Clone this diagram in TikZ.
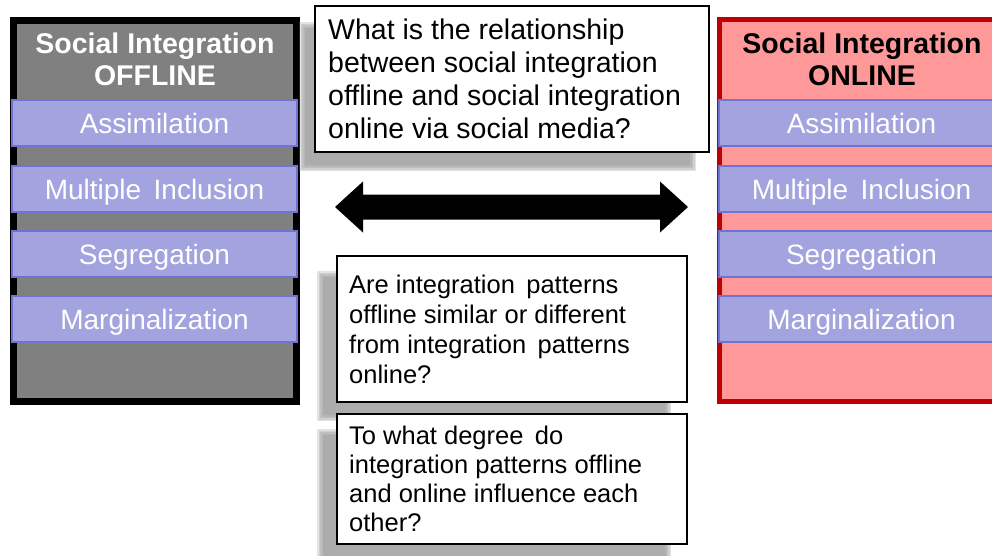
\documentclass[tikz,border=0pt]{standalone}
\usepackage{fontspec}
\setmainfont{Liberation Sans}
\usetikzlibrary{calc}
\begin{document}
\begin{tikzpicture}[x=1pt,y=-1pt,
  band/.style={draw=bandline,fill=bandfill,line width=1.4pt,minimum width=285pt,minimum height=46pt,
    inner sep=0pt,text=white,font=\fontsize{28}{31}\selectfont,text height=20pt,text depth=0pt},
  qbox/.style={draw=black,fill=white,line width=2.2pt},
  qtext/.style={anchor=north west,inner sep=0pt,align=left},
  ttl/.style={anchor=north,inner sep=0pt,align=center,font=\fontsize{28.5}{32}\selectfont\bfseries}]
\definecolor{greyfill}{HTML}{808080}
\definecolor{bandfill}{HTML}{A3A3DF}
\definecolor{bandline}{HTML}{7272D2}
\definecolor{pinkfill}{HTML}{FF9999}
\definecolor{redline}{HTML}{C00000}
\definecolor{shadowc}{HTML}{969696}
\useasboundingbox (0,0) rectangle (992,555);
\clip (0,0) rectangle (992,555);
\fill[white] (0,0) rectangle (992,555);
% left box
\draw[line width=7pt,fill=greyfill] (13.5,20.5) rectangle (296.5,401.5);
\node[ttl,text=white] (tl) at (155,32.5) {Social Integration\\OFFLINE};
\node[band] (l1) at (154.5,123) {Assimilation};
\node[band] (l2) at (154.5,189) {Multiple\, Inclusion};
\node[band] (l3) at (154.5,254) {Segregation};
\node[band] (l4) at (154.5,319) {Marginalization};
% right box
\draw[line width=5pt,draw=redline,fill=pinkfill] (719.5,19.5) rectangle (1010,401.5);
\node[ttl,text=black] (tr) at (862,32.5) {Social Integration\\ONLINE};
\node[band] (r1) at (861.5,123) {Assimilation};
\node[band] (r2) at (861.5,189) {Multiple\, Inclusion};
\node[band] (r3) at (861.5,254) {Segregation};
\node[band] (r4) at (861.5,319) {Marginalization};
% shadows
\foreach \i in {0,1,2,3,4}{
  \fill[shadowc,opacity=0.26] (299+\i*1.5,22+\i*1.5) rectangle (696-\i*1.5,171-\i*1.5);
  \fill[shadowc,opacity=0.26] (317+\i*1.5,271+\i*1.5) rectangle (671-\i*1.5,421-\i*1.5);
  \fill[shadowc,opacity=0.26] (317+\i*1.5,429+\i*1.5) rectangle (671-\i*1.5,570);
}
% question boxes
\draw[qbox] (315,6) rectangle (709,152);
\node[qtext,font=\fontsize{28.5}{33}\selectfont] (q1) at (328,19) {What is the relationship\\between social integration\\offline and social integration\\online via social media?};
\draw[qbox] (337,256) rectangle (687,402);
\node[qtext,font=\fontsize{25.5}{30}\selectfont] (q2) at (349,275) {Are integration\, patterns\\offline similar or different\\from integration\, patterns\\online?};
\draw[qbox] (337,414) rectangle (687,544);
\node[qtext,font=\fontsize{25.5}{29}\selectfont] (q3) at (349,426) {To what degree\, do\\integration patterns offline\\and online influence each\\other?};
% double arrow
\coordinate (aL) at (335,207);
\coordinate (aR) at (688,207);
\fill[black] (aL) -- ++(28,-25.5) -- ++(0,13) -- ($(aR)+(-28,-12.5)$) -- ++(0,-13) -- (aR) -- ++(-28,25.5) -- ++(0,-13) -- ($(aL)+(28,12.5)$) -- ++(0,13) -- cycle;
\end{tikzpicture}
\end{document}
